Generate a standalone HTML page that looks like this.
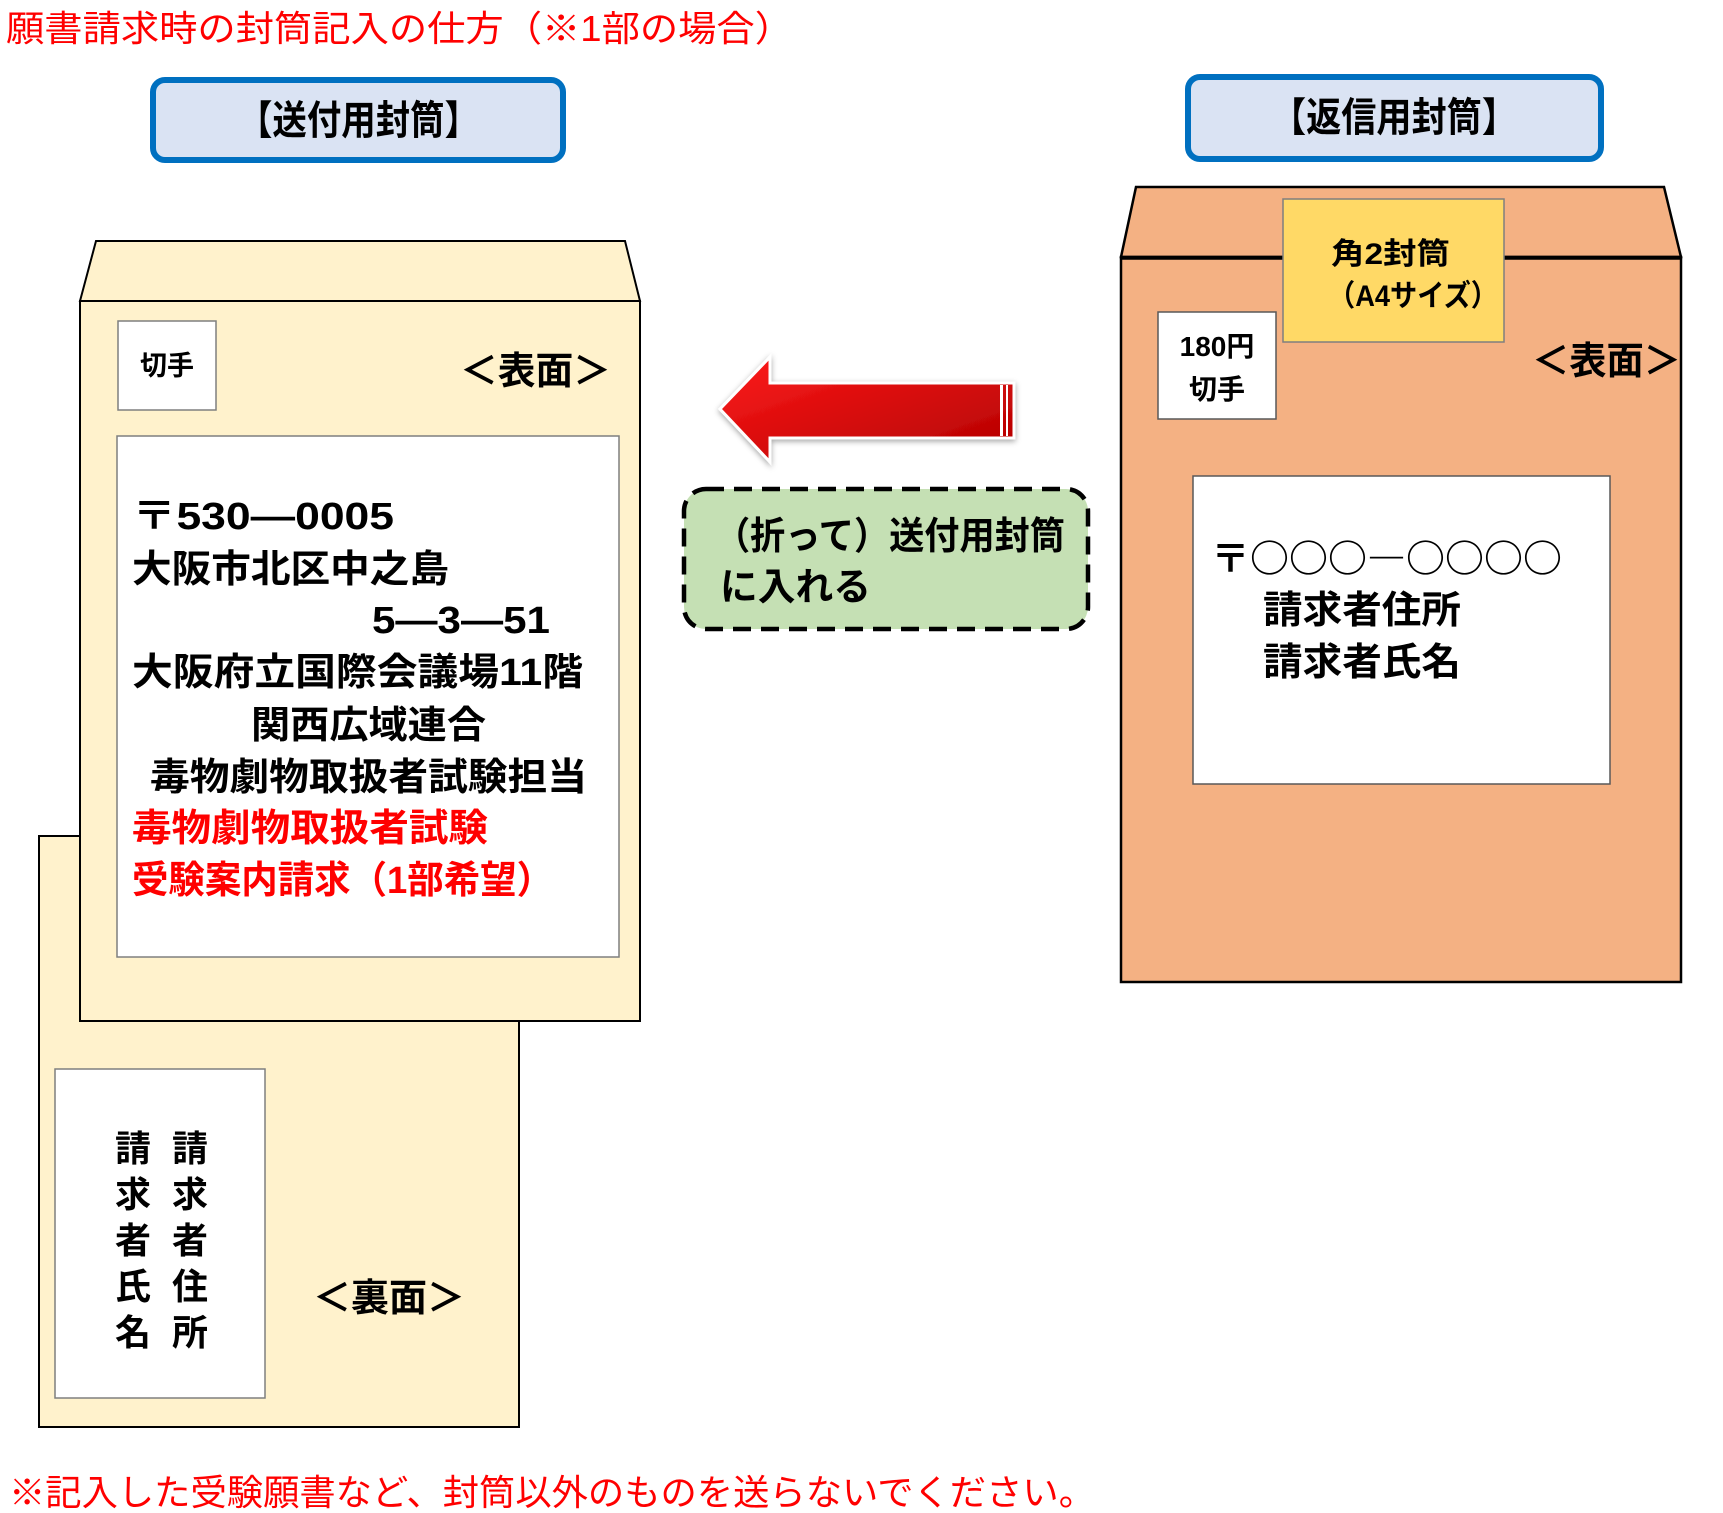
<!DOCTYPE html>
<html><head><meta charset="utf-8"><style>
html,body{margin:0;padding:0;background:#fff;}
svg{display:block;}
text{font-family:"Liberation Sans","Noto Sans CJK JP",sans-serif;}
.j{font-family:"Noto Sans CJK JP",sans-serif;}
</style></head><body>
<svg width="1723" height="1513" viewBox="0 0 1723 1513" xmlns="http://www.w3.org/2000/svg">
<defs>
<linearGradient id="rg" x1="0" y1="0" x2="1" y2="1">
<stop offset="0" stop-color="#ff1a1a"/><stop offset="1" stop-color="#b00000"/>
</linearGradient>
<filter id="sh" x="-10%" y="-20%" width="120%" height="140%"><feDropShadow dx="0" dy="2" stdDeviation="3" flood-color="#000" flood-opacity="0.35"/></filter>
</defs>

<text x="6" y="41" font-size="36" fill="#ff0000" textLength="787" lengthAdjust="spacingAndGlyphs">願書請求時の封筒記入の仕方（※1部の場合）</text>

<rect x="153" y="80" width="410" height="80" rx="12" fill="#dae3f3" stroke="#0070c0" stroke-width="6"/>
<text x="238" y="134" font-size="40" font-weight="bold" textLength="241" lengthAdjust="spacingAndGlyphs">【送付用封筒】</text>
<rect x="1188" y="77" width="413" height="82" rx="12" fill="#dae3f3" stroke="#0070c0" stroke-width="6"/>
<text x="1271" y="131" font-size="40" font-weight="bold" textLength="246" lengthAdjust="spacingAndGlyphs">【返信用封筒】</text>

<!-- back envelope -->
<rect x="39" y="836" width="480" height="591" fill="#fff2cc" stroke="#000" stroke-width="2"/>
<rect x="55" y="1069" width="210" height="329" fill="#fff" stroke="#7f7f7f" stroke-width="1.5"/>
<g font-size="36" font-weight="bold" text-anchor="middle">
<text x="133" y="1161">請</text><text x="133" y="1207">求</text><text x="133" y="1253">者</text><text x="133" y="1299">氏</text><text x="133" y="1345">名</text>
<text x="190" y="1161">請</text><text x="190" y="1207">求</text><text x="190" y="1253">者</text><text x="190" y="1299">住</text><text x="190" y="1345">所</text>
</g>
<text x="313" y="1311" font-size="38" font-weight="bold" textLength="152" lengthAdjust="spacingAndGlyphs">＜裏面＞</text>

<!-- front envelope -->
<polygon points="80,301 96,241 625,241 640,301" fill="#fff2cc" stroke="#000" stroke-width="2"/>
<rect x="80" y="301" width="560" height="720" fill="#fff2cc" stroke="#000" stroke-width="2"/>
<rect x="118" y="321" width="98" height="89" fill="#fff" stroke="#7f7f7f" stroke-width="1.5"/>
<text x="167" y="375" font-size="27" font-weight="bold" text-anchor="middle">切手</text>
<text x="460" y="384" font-size="38" font-weight="bold" textLength="151" lengthAdjust="spacingAndGlyphs">＜表面＞</text>
<rect x="117" y="436" width="502" height="521" fill="#fff" stroke="#7f7f7f" stroke-width="1.5"/>
<g font-size="38" font-weight="bold">
<text x="132" y="529" textLength="262" lengthAdjust="spacingAndGlyphs">〒530―0005</text>
<text x="132" y="582" textLength="317" lengthAdjust="spacingAndGlyphs">大阪市北区中之島</text>
<text x="372" y="633" textLength="178" lengthAdjust="spacingAndGlyphs">5―3―51</text>
<text x="132" y="685" textLength="451" lengthAdjust="spacingAndGlyphs">大阪府立国際会議場11階</text>
<text x="251" y="738" textLength="235" lengthAdjust="spacingAndGlyphs">関西広域連合</text>
<text x="150" y="790" textLength="437" lengthAdjust="spacingAndGlyphs">毒物劇物取扱者試験担当</text>
<text x="132" y="841" fill="#ff0000" textLength="356" lengthAdjust="spacingAndGlyphs">毒物劇物取扱者試験</text>
<text x="132" y="893" fill="#ff0000" textLength="421" lengthAdjust="spacingAndGlyphs">受験案内請求（1部希望）</text>
</g>

<!-- arrow -->
<g filter="url(#sh)">
<polygon points="720,409 770,357 770,383 1014,383 1014,438 770,438 770,462" fill="url(#rg)" stroke="#fff" stroke-width="3"/>
</g>
<rect x="1000" y="385" width="3" height="51" fill="#fff"/>
<rect x="1006" y="385" width="2" height="51" fill="#fff"/>

<!-- green box -->
<rect x="684" y="489" width="404" height="140" rx="22" fill="#c5e0b4" stroke="#000" stroke-width="4.5" stroke-dasharray="18,10"/>
<text x="715" y="549" font-size="38" font-weight="bold" textLength="350" lengthAdjust="spacingAndGlyphs">（折って）送付用封筒</text>
<text x="720" y="600" font-size="38" font-weight="bold" textLength="151" lengthAdjust="spacingAndGlyphs">に入れる</text>

<!-- right envelope -->
<polygon points="1121,257 1136,187 1664,187 1681,257" fill="#f4b183" stroke="#000" stroke-width="2.5"/>
<rect x="1121" y="257" width="560" height="725" fill="#f4b183" stroke="#000" stroke-width="2.5"/>
<line x1="1121" y1="258" x2="1681" y2="258" stroke="#000" stroke-width="3.5"/>
<rect x="1283" y="199" width="221" height="143" fill="#ffd966" stroke="#7f7f7f" stroke-width="1.5"/>
<text x="1331" y="264" font-size="30" font-weight="bold" textLength="119" lengthAdjust="spacingAndGlyphs">角2封筒</text>
<text x="1328" y="306" font-size="30" font-weight="bold" textLength="170" lengthAdjust="spacingAndGlyphs">（A4サイズ）</text>
<rect x="1158" y="312" width="118" height="107" fill="#fff" stroke="#595959" stroke-width="1.5"/>
<text x="1217" y="356" font-size="28" font-weight="bold" text-anchor="middle">180円</text>
<text x="1217" y="399" font-size="28" font-weight="bold" text-anchor="middle">切手</text>
<text x="1532" y="374" font-size="38" font-weight="bold" textLength="149" lengthAdjust="spacingAndGlyphs">＜表面＞</text>
<rect x="1193" y="476" width="417" height="308" fill="#fff" stroke="#595959" stroke-width="1.5"/>
<g font-size="38" font-weight="bold">
<text class="j" x="1211" y="572" textLength="351" lengthAdjust="spacingAndGlyphs">〒○○○―○○○○</text>
<text x="1263" y="623" textLength="198" lengthAdjust="spacingAndGlyphs">請求者住所</text>
<text x="1263" y="675" textLength="198" lengthAdjust="spacingAndGlyphs">請求者氏名</text>
</g>

<text x="9" y="1505" font-size="36" fill="#ff0000" textLength="1086" lengthAdjust="spacingAndGlyphs">※記入した受験願書など、封筒以外のものを送らないでください。</text>
</svg>
</body></html>
